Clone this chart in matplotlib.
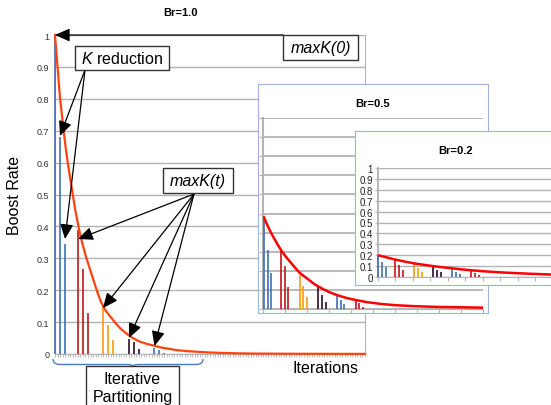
import numpy as np
import matplotlib
matplotlib.use("Agg")
import matplotlib.pyplot as plt
from matplotlib.patches import Rectangle, FancyArrowPatch, PathPatch
from matplotlib.path import Path

plt.rcParams['font.family'] = ['Liberation Sans', 'DejaVu Sans']
plt.rcParams['mathtext.fontset'] = 'custom'
plt.rcParams['mathtext.rm'] = 'Liberation Sans'
plt.rcParams['mathtext.it'] = 'Liberation Sans:italic'

W, H = 551, 406

# ---- data ----
# iteration index of each bar (groups of three)
bar_iter = [0, 2, 4, 9, 11, 13, 19, 21, 23, 29, 31, 33, 39, 41, 43, 49, 51, 53]
group_colors = ["#3f6fb5", "#c0141c", "#ff9a0a", "#2e0b2a", "#3f6fb5", "#c0141c"]

br10_bars = [1.0, 0.68, 0.345, 0.39, 0.265, 0.13, 0.15, 0.09, 0.045,
             0.048, 0.039, 0.017, 0.019, 0.011, 0.004]
br05_bars = [0.48, 0.31, 0.19, 0.31, 0.225, 0.115, 0.18, 0.12, 0.063,
             0.115, 0.073, 0.037, 0.073, 0.047, 0.026, 0.049, 0.03, 0.012]
br02_bars = [0.2, 0.14, 0.09, 0.155, 0.11, 0.065, 0.125, 0.085, 0.045,
             0.095, 0.06, 0.05, 0.075, 0.05, 0.03, 0.06, 0.04, 0.02]

br10_curve_x = [0, 1, 2, 3, 4, 5, 6, 7, 8, 9, 10, 11, 12, 13, 14, 15, 16, 17, 18, 19, 20,
                22, 24, 26, 28, 30, 33, 36, 39, 42, 45, 48, 52, 56, 60, 65, 72, 80, 90, 105, 122]
br10_curve_y = [1.0, 0.9, 0.8, 0.73, 0.66, 0.6, 0.55, 0.5, 0.45, 0.41, 0.37, 0.34, 0.31,
                0.285, 0.26, 0.235, 0.21, 0.187, 0.165, 0.15, 0.135, 0.115, 0.095, 0.078,
                0.065, 0.053, 0.04, 0.032, 0.026, 0.02, 0.016, 0.012, 0.009, 0.007, 0.005,
                0.0035, 0.002, 0.0012, 0.0008, 0.0005, 0.0003]
br05_curve_x = [0, 2, 4, 6, 9, 12, 15, 19, 23, 27, 31, 35, 39, 44, 49, 55, 62, 70, 80, 92, 105, 117]
br05_curve_y = [0.48, 0.435, 0.395, 0.36, 0.31, 0.27, 0.235, 0.19, 0.16, 0.13, 0.107, 0.088,
                0.073, 0.058, 0.047, 0.036, 0.027, 0.02, 0.015, 0.011, 0.009, 0.007]
br02_curve_x = [0, 5, 9, 14, 19, 24, 29, 34, 39, 44, 49, 56, 64, 72, 80, 88, 95, 105, 116]
br02_curve_y = [0.2, 0.178, 0.16, 0.142, 0.125, 0.112, 0.1, 0.089, 0.08, 0.07, 0.062, 0.052,
                0.043, 0.036, 0.03, 0.025, 0.02, 0.016, 0.012]

y_ticks = [0, 0.1, 0.2, 0.3, 0.4, 0.5, 0.6, 0.7, 0.8, 0.9, 1.0]
y_labels = ["0", "0.1", "0.2", "0.3", "0.4", "0.5", "0.6", "0.7", "0.8", "0.9", "1"]

GRID = "#b3b3b3"


def px(x, y):
    return x / W, 1 - y / H


def rect_px(x0, y0, x1, y1):
    return [x0 / W, 1 - y1 / H, (x1 - x0) / W, (y1 - y0) / H]


def draw_bars(ax, heights, lw):
    for i, h in enumerate(heights):
        ax.vlines(bar_iter[i], 0, h, color=group_colors[i // 3], lw=lw,
                  zorder=3, clip_on=False)


fig = plt.figure(figsize=(W / 100, H / 100), dpi=100)

# ------------------ main chart Br=1.0 ------------------
ax = fig.add_axes(rect_px(55, 36, 365, 355))
ax.set_xlim(0, 122)
ax.set_ylim(0, 1)
ax.set_axisbelow(True)
ax.grid(axis='y', color=GRID, lw=1.0)
ax.set_yticks(y_ticks)
ax.set_yticklabels(y_labels)
ax.set_xticks(np.arange(0, 123, 1))
ax.tick_params(axis='x', length=2.5, width=0.6, color=GRID, labelbottom=False)
ax.tick_params(axis='y', length=0, labelsize=6.5, labelcolor="#333333", pad=4)
for s in ax.spines.values():
    s.set_color(GRID)
draw_bars(ax, br10_bars, 1.2)
ax.plot(br10_curve_x, br10_curve_y, color="#ff420e", lw=1.6, zorder=4, clip_on=False)

fig.text(*px(181, 13), "Br=1.0", fontsize=8, fontweight='bold', ha='center', va='center')
fig.text(*px(14.5, 195), "Boost Rate", fontsize=11.5, rotation=90, ha='center', va='center')
fig.text(*px(325.5, 369), "Iterations", fontsize=11.5, ha='center', va='center')

# ------------------ inset Br=0.5 ------------------
fa1 = fig.add_axes(rect_px(258, 85, 488, 314))
fa1.set_xticks([])
fa1.set_yticks([])
for s in fa1.spines.values():
    s.set_color("#9fb4d8")
ax1 = fig.add_axes(rect_px(263, 119, 483, 310))
ax1.set_xlim(-0.5, 117)
ax1.set_ylim(0, 1)
ax1.set_axisbelow(True)
ax1.grid(axis='y', color=GRID, lw=1.3)
ax1.set_yticks(y_ticks)
ax1.set_xticks(np.linspace(-0.5, 117, 11))
ax1.tick_params(length=3, width=0.8, color=GRID, labelleft=False, labelbottom=False)
ax1.spines['top'].set_visible(False)
ax1.spines['right'].set_visible(False)
ax1.spines['left'].set_color(GRID)
ax1.spines['left'].set_linewidth(1.5)
ax1.spines['bottom'].set_color(GRID)
ax1.patch.set_alpha(0)
draw_bars(ax1, br05_bars, 1.2)
ax1.plot(br05_curve_x, br05_curve_y, color="#ff0000", lw=1.8, zorder=4)
fig.text(*px(373, 104), "Br=0.5", fontsize=8, fontweight='bold', ha='center', va='center')

# ------------------ inset Br=0.2 ------------------
fa2 = fig.add_axes(rect_px(355, 132, 585, 286))
fa2.set_xticks([])
fa2.set_yticks([])
for s in fa2.spines.values():
    s.set_color("#9fb4d8")
ax2 = fig.add_axes(rect_px(378, 169, 598, 278))
ax2.set_xlim(0, 116)
ax2.set_ylim(0, 1)
ax2.set_axisbelow(True)
ax2.grid(axis='y', color=GRID, lw=1.0)
ax2.set_yticks(y_ticks)
ax2.set_yticklabels(y_labels)
ax2.set_xticks(np.arange(0, 117, 9.2))
ax2.tick_params(axis='x', length=3, width=0.8, color=GRID, labelbottom=False)
ax2.tick_params(axis='y', length=2, width=0.8, color=GRID, labelsize=7,
                labelcolor="#222222", pad=1.5)
ax2.spines['top'].set_visible(False)
ax2.spines['right'].set_visible(False)
ax2.spines['left'].set_color(GRID)
ax2.spines['left'].set_linewidth(1.3)
ax2.spines['bottom'].set_color(GRID)
ax2.patch.set_alpha(0)
draw_bars(ax2, br02_bars, 1.2)
ax2.plot(br02_curve_x, br02_curve_y, color="#ff0000", lw=1.8, zorder=4)
fig.text(*px(456, 151), "Br=0.2", fontsize=8, fontweight='bold', ha='center', va='center')


# ------------------ annotations ------------------
def arrow(x0, y0, x1, y1):
    fig.add_artist(FancyArrowPatch(px(x0, y0), px(x1, y1), transform=fig.transFigure,
                                   arrowstyle='-|>,head_length=0.9,head_width=0.4',
                                   mutation_scale=10, color='black', lw=0.9,
                                   shrinkA=0, shrinkB=0, zorder=3))


def box(x0, y0, x1, y1):
    fig.add_artist(Rectangle(px(x0, y1), (x1 - x0) / W, (y1 - y0) / H,
                             transform=fig.transFigure, facecolor='white',
                             edgecolor='#333333', lw=1.0, zorder=4))


arrow(283, 36, 55, 36)
arrow(85, 71, 60, 137)
arrow(85, 71, 65, 240)
for tx, ty in [(78, 240), (103, 309), (129, 339), (154.5, 347)]:
    arrow(194, 195, tx, ty)

box(75, 47, 169, 71)
fig.text(*px(122, 59.5), "$K$ reduction", fontsize=11.5, ha='center', va='center', zorder=5)
box(163, 169, 233, 194)
fig.text(*px(198, 182), "maxK(t)", fontsize=11.5, style='italic', ha='center', va='center', zorder=5)
box(283, 36, 358, 61)
fig.text(*px(320.5, 49), "maxK(0)", fontsize=11.5, style='italic', ha='center', va='center', zorder=5)
box(86, 367, 179, 412)
fig.text(*px(132.5, 380), "Iterative", fontsize=11.5, ha='center', va='center', zorder=5)
fig.text(*px(132.5, 398), "Partitioning", fontsize=11.5, ha='center', va='center', zorder=5)

# curly brace under the first iterations
brace = [(53, 360), (53, 365.5), (58, 365.5), (64, 365.5), (126, 365.5),
         (131, 365.5), (133, 366), (133, 368.5), (133, 366), (135, 365.5),
         (140, 365.5), (193, 365.5), (198, 365.5), (203, 365.5), (203, 360)]
codes = [Path.MOVETO, Path.CURVE4, Path.CURVE4, Path.CURVE4, Path.LINETO,
         Path.CURVE4, Path.CURVE4, Path.CURVE4, Path.CURVE4, Path.CURVE4,
         Path.CURVE4, Path.LINETO, Path.CURVE4, Path.CURVE4, Path.CURVE4]
fig.add_artist(PathPatch(Path([px(x, y) for x, y in brace], codes),
                         transform=fig.transFigure, fill=False,
                         edgecolor="#4a7ebb", lw=1.0, zorder=3))

fig.savefig("out.png", dpi=100)
